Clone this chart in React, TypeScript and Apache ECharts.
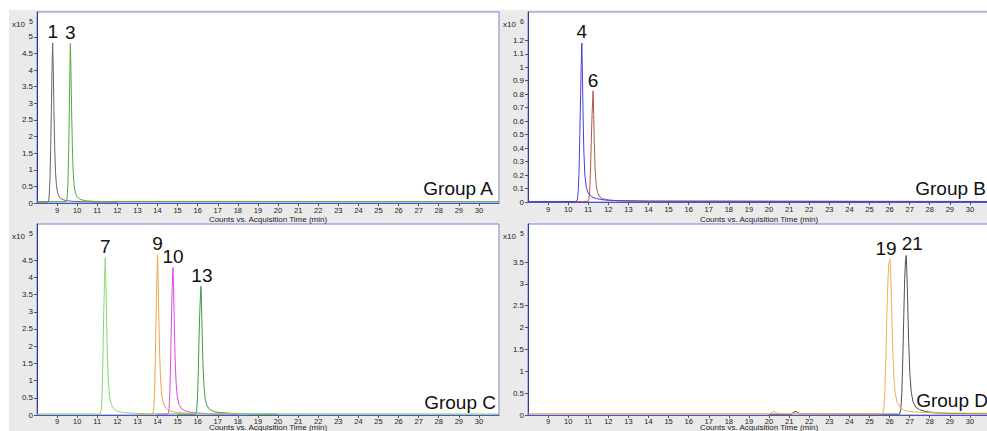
import React, { useEffect, useRef } from "react";
import * as echarts from "echarts";

type Pt = [number, number];

// ---- tick values ----
const xTicks = [9, 10, 11, 12, 13, 14, 15, 16, 17, 18, 19, 20, 21, 22, 23, 24, 25, 26, 27, 28, 29, 30];
const yTicksA = [0, 0.5, 1, 1.5, 2, 2.5, 3, 3.5, 4, 4.5, 5];
const yTicksB = [0, 0.1, 0.2, 0.3, 0.4, 0.5, 0.6, 0.7, 0.8, 0.9, 1, 1.1, 1.2];
const yTicksC = [0, 0.5, 1, 1.5, 2, 2.5, 3, 3.5, 4, 4.5];
const yTicksD = [0, 0.5, 1, 1.5, 2, 2.5, 3, 3.5];

// ---- Group A (x10^5 counts) ----
const peak1: Pt[] = [[8.0, 0.03], [8.55, 0.03], [8.6, 0.15], [8.64, 0.6], [8.68, 1.6], [8.72, 3.0], [8.75, 4.1], [8.78, 4.82], [8.81, 4.0], [8.84, 2.9], [8.88, 1.7], [8.92, 0.95], [8.97, 0.52], [9.03, 0.3], [9.12, 0.18], [9.25, 0.11], [9.45, 0.07], [9.8, 0.05], [10.3, 0.04], [11.0, 0.03], [12.0, 0.03]];
const peak3: Pt[] = [[8.0, 0.04], [9.45, 0.04], [9.5, 0.15], [9.54, 0.6], [9.58, 1.7], [9.62, 3.2], [9.64, 4.1], [9.66, 4.8], [9.69, 4.0], [9.72, 2.9], [9.76, 1.7], [9.8, 0.95], [9.85, 0.52], [9.91, 0.3], [10.0, 0.18], [10.15, 0.11], [10.4, 0.07], [10.8, 0.05], [11.5, 0.045], [31, 0.04]];

// ---- Group B (x10^6 counts) ----
const peak4: Pt[] = [[8, 0.004], [10.4, 0.004], [10.46, 0.02], [10.5, 0.08], [10.54, 0.22], [10.58, 0.5], [10.62, 0.8], [10.65, 1.02], [10.68, 1.18], [10.71, 0.95], [10.74, 0.66], [10.78, 0.38], [10.83, 0.2], [10.9, 0.11], [11.0, 0.065], [11.15, 0.04], [11.4, 0.025], [11.8, 0.015], [12.5, 0.01], [14, 0.007], [31, 0.004]];
const peak6: Pt[] = [[8, 0.003], [10.98, 0.003], [11.03, 0.02], [11.07, 0.08], [11.11, 0.22], [11.15, 0.45], [11.19, 0.65], [11.24, 0.825], [11.27, 0.65], [11.3, 0.44], [11.34, 0.25], [11.39, 0.13], [11.46, 0.07], [11.56, 0.04], [11.7, 0.025], [12.0, 0.014], [12.6, 0.008], [14, 0.005], [31, 0.003]];

// ---- Group C (x10^5 counts) ----
const peak7: Pt[] = [[8, 0.03], [11.15, 0.03], [11.2, 0.15], [11.24, 0.6], [11.28, 1.6], [11.32, 2.9], [11.36, 3.9], [11.4, 4.57], [11.43, 3.9], [11.46, 2.9], [11.5, 1.8], [11.55, 1.0], [11.61, 0.55], [11.7, 0.3], [11.82, 0.18], [12.0, 0.11], [12.3, 0.07], [12.8, 0.05], [13.5, 0.04], [31, 0.03]];
const peak9: Pt[] = [[13.0, 0.02], [13.76, 0.02], [13.81, 0.15], [13.85, 0.6], [13.89, 1.6], [13.93, 2.9], [13.97, 4.0], [14.0, 4.66], [14.03, 4.0], [14.06, 3.0], [14.1, 1.9], [14.15, 1.05], [14.21, 0.58], [14.3, 0.32], [14.42, 0.19], [14.6, 0.12], [14.9, 0.08], [15.4, 0.05], [16.2, 0.03], [17.5, 0.02]];
const peak10: Pt[] = [[14.0, 0.02], [14.52, 0.02], [14.57, 0.15], [14.61, 0.6], [14.65, 1.5], [14.69, 2.7], [14.73, 3.7], [14.77, 4.29], [14.8, 3.7], [14.83, 2.8], [14.87, 1.75], [14.92, 0.98], [14.98, 0.55], [15.07, 0.3], [15.2, 0.18], [15.4, 0.11], [15.7, 0.07], [16.2, 0.05], [17, 0.03], [18, 0.02]];
const peak13: Pt[] = [[15.0, 0.02], [15.9, 0.02], [15.95, 0.12], [15.99, 0.5], [16.03, 1.3], [16.07, 2.3], [16.11, 3.1], [16.16, 3.74], [16.19, 3.2], [16.22, 2.4], [16.26, 1.5], [16.31, 0.85], [16.37, 0.48], [16.46, 0.27], [16.6, 0.16], [16.8, 0.1], [17.1, 0.07], [17.6, 0.05], [18.5, 0.03], [20, 0.02]];

// ---- Group D (x10^5 counts) ----
const peak21: Pt[] = [[20, 0.02], [21.1, 0.02], [21.25, 0.07], [21.35, 0.08], [21.5, 0.03], [26.5, 0.02], [26.56, 0.12], [26.61, 0.5], [26.66, 1.3], [26.71, 2.3], [26.75, 3.1], [26.79, 3.5], [26.83, 3.65], [26.86, 3.3], [26.9, 2.6], [26.95, 1.7], [27.01, 0.95], [27.08, 0.52], [27.17, 0.3], [27.3, 0.18], [27.5, 0.12], [27.8, 0.08], [28.3, 0.05], [29, 0.035], [31, 0.03]];
const peak19: Pt[] = [[8, 0.03], [20.0, 0.03], [20.15, 0.05], [20.25, 0.09], [20.35, 0.05], [20.5, 0.03], [25.65, 0.03], [25.72, 0.15], [25.77, 0.6], [25.82, 1.4], [25.87, 2.4], [25.92, 3.1], [25.96, 3.45], [26.02, 3.56], [26.06, 3.2], [26.1, 2.5], [26.15, 1.6], [26.21, 0.9], [26.28, 0.5], [26.38, 0.28], [26.52, 0.17], [26.72, 0.11], [27.0, 0.08], [27.5, 0.06], [28.5, 0.045], [31, 0.04]];

const FONT = "'Liberation Sans', Arial, sans-serif";

interface SeriesCfg { name: string; data: Pt[]; color: string; off: [number, number]; }
interface PanelCfg {
  left: number; top: number; width: number; height: number;
  yMax: number; yTicks: number[]; exp: string; group: string;
  groupX: number; groupY: number; nameGap: number; labelMargin: number;
  series: SeriesCfg[];
}

const panels: PanelCfg[] = [
  {
    left: 37, top: 12, width: 462, height: 191, yMax: 5.75, yTicks: yTicksA, exp: "5", group: "Group A",
    groupX: 493, groupY: 188, nameGap: 12, labelMargin: 3,
    series: [
      { name: "1", data: peak1, color: "#666666", off: [0, 0] },
      { name: "3", data: peak3, color: "#55a83a", off: [0, 0] },
    ],
  },
  {
    left: 528, top: 12, width: 462, height: 190, yMax: 1.41, yTicks: yTicksB, exp: "6", group: "Group B",
    groupX: 986, groupY: 188, nameGap: 13, labelMargin: 3,
    series: [
      { name: "6", data: peak6, color: "#b0564c", off: [0, 1] },
      { name: "4", data: peak4, color: "#4242dc", off: [0, 0] },
    ],
  },
  {
    left: 37, top: 224, width: 462, height: 191, yMax: 5.55, yTicks: yTicksC, exp: "5", group: "Group C",
    groupX: 496, groupY: 402, nameGap: 8, labelMargin: 2,
    series: [
      { name: "9", data: peak9, color: "#f0a446", off: [0, 0] },
      { name: "10", data: peak10, color: "#e046e6", off: [0, 0] },
      { name: "13", data: peak13, color: "#3f9a3c", off: [1, 0] },
      { name: "7", data: peak7, color: "#8ad670", off: [0, 0] },
    ],
  },
  {
    left: 528, top: 224, width: 462, height: 191, yMax: 4.37, yTicks: yTicksD, exp: "5", group: "Group D",
    groupX: 988, groupY: 400, nameGap: 8, labelMargin: 2,
    series: [
      { name: "21", data: peak21, color: "#505050", off: [6, -1] },
      { name: "19", data: peak19, color: "#f2ae52", off: [-4, 0] },
    ],
  },
];

export default function App() {
  const ref = useRef<HTMLDivElement>(null);

  useEffect(() => {
    if (!ref.current) return;
    const chart = echarts.init(ref.current, undefined, { renderer: "svg" });

    const grid: any[] = [];
    const xAxis: any[] = [];
    const yAxis: any[] = [];
    const series: any[] = [];
    const graphic: any[] = [];

    panels.forEach((p, i) => {
      grid.push({
        left: p.left, top: p.top, width: p.width, height: p.height,
        show: true, backgroundColor: "#ffffff", borderColor: "#7a82d8", borderWidth: 1,
        containLabel: false, outerBoundsMode: "none",
      });
      xAxis.push({
        type: "value", gridIndex: i, min: 8, max: 31,
        name: "Counts vs. Acquisition Time (min)", nameLocation: "middle", nameGap: p.nameGap,
        nameMoveOverlap: false,
        nameTextStyle: { fontSize: 8, color: "#222", fontFamily: FONT },
        axisLine: { show: true, onZero: false, lineStyle: { color: "#4a56c0", width: 1 } },
        axisTick: { show: true, length: 3, customValues: xTicks, lineStyle: { color: "#555" } },
        axisLabel: { show: true, customValues: xTicks, fontSize: 7.5, color: "#222", margin: p.labelMargin, fontFamily: FONT },
        splitLine: { show: false },
      });
      yAxis.push({
        type: "value", gridIndex: i, min: 0, max: p.yMax,
        axisLine: { show: true, lineStyle: { color: "#2c3a9c", width: 1 } },
        axisTick: { show: true, length: 3, customValues: p.yTicks, lineStyle: { color: "#555" } },
        axisLabel: { show: true, customValues: p.yTicks, fontSize: 8, color: "#222", margin: 4, fontFamily: FONT },
        splitLine: { show: false },
      });
      p.series.forEach((s) => {
        let apex = s.data[0];
        s.data.forEach((d) => { if (d[1] > apex[1]) apex = d; });
        series.push({
          type: "line", xAxisIndex: i, yAxisIndex: i, data: s.data,
          showSymbol: false, symbol: "none", silent: true,
          lineStyle: { color: s.color, width: 1 },
          itemStyle: { color: s.color },
          markPoint: {
            silent: true, symbol: "circle", symbolSize: 1,
            itemStyle: { color: "rgba(0,0,0,0)" },
            label: {
              show: true, position: "top", distance: 1, formatter: s.name,
              fontSize: 19, color: "#111", fontFamily: FONT, offset: s.off,
            },
            data: [{ coord: apex, value: apex[1] }],
          },
        });
      });
      // exponent label
      graphic.push({
        type: "text", left: p.left - 25, top: p.top + 8,
        style: { text: "x10", fontSize: 8, fill: "#222", fontFamily: FONT },
      });
      graphic.push({
        type: "text", left: p.left - 8, top: p.top + 6,
        style: { text: p.exp, fontSize: 7, fill: "#222", fontFamily: FONT },
      });
      graphic.push({
        type: "text", x: p.groupX, y: p.groupY,
        style: { text: p.group, fontSize: 19, fill: "#111", fontFamily: FONT, align: "right", verticalAlign: "middle" },
      });
    });

    chart.setOption({
      animation: false,
      backgroundColor: "transparent",
      grid, xAxis, yAxis, series, graphic,
    });

    return () => chart.dispose();
  }, []);

  return (
    <div style={{ position: "absolute", left: 0, top: 0, width: 987, height: 431, background: "#ffffff", overflow: "hidden" }}>
      <div style={{ position: "absolute", left: 9, top: 10, width: 978, height: 421, background: "#eaeaea" }} />
      <div ref={ref} style={{ position: "absolute", left: 0, top: 0, width: 987, height: 431 }} />
    </div>
  );
}
